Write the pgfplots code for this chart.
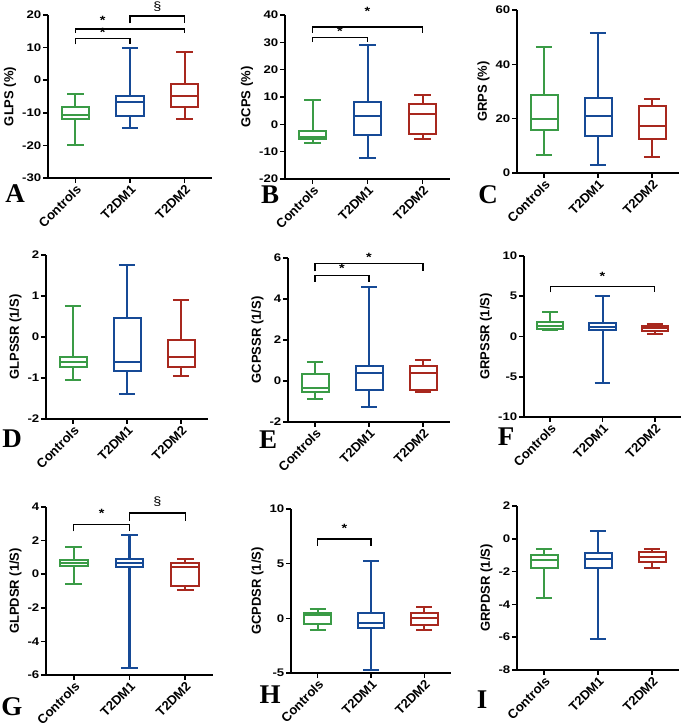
\documentclass[border=0pt]{standalone}
\usepackage{fontspec}
\setmainfont{Liberation Sans}
\newfontfamily\letterfont{Liberation Serif}
\newfontfamily\widefont[FakeStretch=1.2]{Liberation Sans}
\usepackage{pgfplots}
\pgfplotsset{compat=1.18}
\usepgfplotslibrary{statistics}
\definecolor{cg}{RGB}{58,155,70}
\definecolor{cb}{RGB}{22,74,150}
\definecolor{cr}{RGB}{168,40,30}
\pgfplotsset{panel/.style={scale only axis, anchor=south west,
  xmin=0.5, xmax=3.5, xtick={1,2,3}, xticklabels={Controls,T2DM1,T2DM2},
  axis x line*=bottom, axis y line*=left,
  axis line style={line width=2.4pt,-,black},
  tick style={line width=1.6pt,black}, major tick length=5pt, tick align=outside,
  minor tick num=0,
  boxplot/draw direction=y,
  boxplot/every box/.style={line width=2pt},
  boxplot/every whisker/.style={line width=2pt},
  boxplot/every median/.style={line width=2pt},
  x tick label style={rotate=45, anchor=north east, font=\bfseries\fontsize{13}{13}\selectfont, inner sep=0.5pt},
  y tick label style={font=\widefont\bfseries\fontsize{11}{11}\selectfont, inner sep=1.5pt},
  ylabel near ticks,
  ylabel style={font=\bfseries\fontsize{13}{13}\selectfont, yshift=1pt},
  /pgf/number format/assume math mode=true,
  scaled y ticks=false,
  clip=false}}
\newcommand{\bx}[7]{\addplot[#1, solid, line width=2pt, boxplot prepared={draw position=#2, lower whisker=#3, lower quartile=#4, median=#5, upper quartile=#6, upper whisker=#7, box extend=0.5, whisker extend=0.3}] coordinates {};}
\newcommand{\brk}[4]{\draw[line width=1.2pt, black] (axis cs:#1,#3) -- (axis cs:#1,#4) -- (axis cs:#2,#4) -- (axis cs:#2,#3);}
\newcommand{\sig}[3]{\node[font=\widefont\bfseries\fontsize{12}{12}\selectfont, inner sep=0pt] at (axis cs:#1,#2) {#3};}
\begin{document}
\begin{tikzpicture}
\useasboundingbox (0pt,0pt) rectangle (685pt,727pt);
% A
\begin{axis}[panel, at={(48pt,549pt)}, width=164pt, height=163pt, ymin=-30, ymax=20, ytick={-30,-20,...,20}, ylabel={GLPS (\%)}]
\bx{cg}{1}{-20}{-11.8}{-10.6}{-8.2}{-4.3}
\bx{cb}{2}{-14.8}{-10.9}{-6.6}{-4.9}{9.8}
\bx{cr}{3}{-11.8}{-8.2}{-4.9}{-1.3}{8.5}
\brk{1}{2}{11.0}{12.8}
\sig{1.5}{14.6}{*}
\brk{1}{3}{14.4}{15.7}
\sig{1.5}{18.2}{*}
\brk{2}{3}{17.4}{19.7}
\sig{2.5}{22.6}{\mdseries\S}
\end{axis}
% B
\begin{axis}[panel, at={(285pt,548pt)}, width=165pt, height=164pt, ymin=-20, ymax=40, ytick={-20,-10,...,40}, ylabel={GCPS (\%)}]
\bx{cg}{1}{-6.8}{-5.5}{-4.5}{-2.6}{9.0}
\bx{cb}{2}{-12.4}{-3.8}{2.9}{8.1}{29.2}
\bx{cr}{3}{-5.4}{-3.5}{3.8}{7.6}{10.9}
\brk{1}{2}{30.1}{31.9}
\sig{1.5}{34.0}{*}
\brk{1}{3}{33.5}{35.6}
\sig{2}{41.2}{*}
\end{axis}
% C
\begin{axis}[panel, at={(517pt,554pt)}, width=162pt, height=163pt, ymin=0, ymax=60, ytick={0,20,40,60}, ylabel={GRPS (\%)}]
\bx{cg}{1}{6.5}{15.9}{20.0}{28.8}{46.3}
\bx{cb}{2}{3.1}{13.8}{20.8}{27.6}{51.4}
\bx{cr}{3}{5.8}{12.5}{17.4}{24.7}{27.2}
\end{axis}
% D
\begin{axis}[panel, at={(46pt,308pt)}, width=162pt, height=164pt, ymin=-2, ymax=2, ytick={-2,-1,...,2}, ylabel={GLPSSR (1/S)}]
\bx{cg}{1}{-1.05}{-0.74}{-0.60}{-0.50}{0.76}
\bx{cb}{2}{-1.40}{-0.82}{-0.62}{0.47}{1.76}
\bx{cr}{3}{-0.94}{-0.74}{-0.50}{-0.07}{0.90}
\end{axis}
% E
\begin{axis}[panel, at={(288pt,305pt)}, width=162pt, height=164pt, ymin=-2, ymax=6, ytick={-2,0,...,6}, ylabel={GCPSSR (1/S)}]
\bx{cg}{1}{-0.86}{-0.54}{-0.33}{0.36}{0.91}
\bx{cb}{2}{-1.28}{-0.46}{0.39}{0.75}{4.57}
\bx{cr}{3}{-0.53}{-0.46}{0.39}{0.75}{1.04}
\brk{1}{2}{4.83}{5.14}
\sig{1.5}{5.5}{*}
\brk{1}{3}{5.35}{5.72}
\sig{2}{6.05}{*}
\end{axis}
% F
\begin{axis}[panel, at={(524pt,310pt)}, width=157pt, height=161pt, ymin=-10, ymax=10, ytick={-10,-5,...,10}, ylabel={GRPSSR (1/S)}]
\bx{cg}{1}{0.8}{0.95}{1.35}{1.75}{3.07}
\bx{cb}{2}{-5.77}{0.79}{1.12}{1.62}{5.02}
\bx{cr}{3}{0.37}{0.66}{1.0}{1.33}{1.54}
\brk{1}{3}{5.48}{6.18}
\sig{2}{7.5}{*}
\end{axis}
% G
\begin{axis}[panel, at={(46pt,52pt)}, width=167pt, height=168pt, ymin=-6, ymax=4, ytick={-6,-4,...,4}, ylabel={GLPDSR (1/S)}]
\bx{cg}{1}{-0.59}{0.50}{0.66}{0.86}{1.59}
\bx{cb}{2}{-5.6}{0.42}{0.66}{0.90}{2.35}
\bx{cr}{3}{-0.97}{-0.73}{0.42}{0.66}{0.92}
\brk{1}{2}{2.55}{2.95}
\sig{1.5}{3.6}{*}
\brk{2}{3}{3.18}{3.64}
\sig{2.5}{4.34}{\mdseries\S}
\end{axis}
% H
\begin{axis}[panel, at={(291pt,54pt)}, width=160pt, height=164pt, ymin=-5, ymax=10, ytick={-5,0,5,10}, ylabel={GCPDSR (1/S)}]
\bx{cg}{1}{-1.08}{-0.53}{0.30}{0.51}{0.85}
\bx{cb}{2}{-4.75}{-0.84}{-0.47}{0.45}{5.26}
\bx{cr}{3}{-1.08}{-0.61}{0.0}{0.45}{1.0}
\brk{1}{2}{6.63}{7.25}
\sig{1.5}{8.2}{*}
\end{axis}
% I
\begin{axis}[panel, at={(517pt,57pt)}, width=162pt, height=164pt, ymin=-8, ymax=2, ytick={-8,-6,...,2}, ylabel={GRPDSR (1/S)}]
\bx{cg}{1}{-3.64}{-1.81}{-1.31}{-0.96}{-0.64}
\bx{cb}{2}{-6.11}{-1.81}{-1.25}{-0.86}{0.46}
\bx{cr}{3}{-1.81}{-1.41}{-1.1}{-0.8}{-0.64}
\end{axis}
% panel letters
\begin{scope}[every node/.style={font=\letterfont\bfseries\fontsize{27}{27}\selectfont, inner sep=0pt}]
\node at (15pt,533pt) {A};
\node at (270pt,532pt) {B};
\node at (488pt,532pt) {C};
\node at (12pt,288pt) {D};
\node at (268pt,287pt) {E};
\node at (506pt,290pt) {F};
\node at (12pt,20pt) {G};
\node at (270pt,32pt) {H};
\node at (482pt,27pt) {I};
\end{scope}
\end{tikzpicture}
\end{document}
